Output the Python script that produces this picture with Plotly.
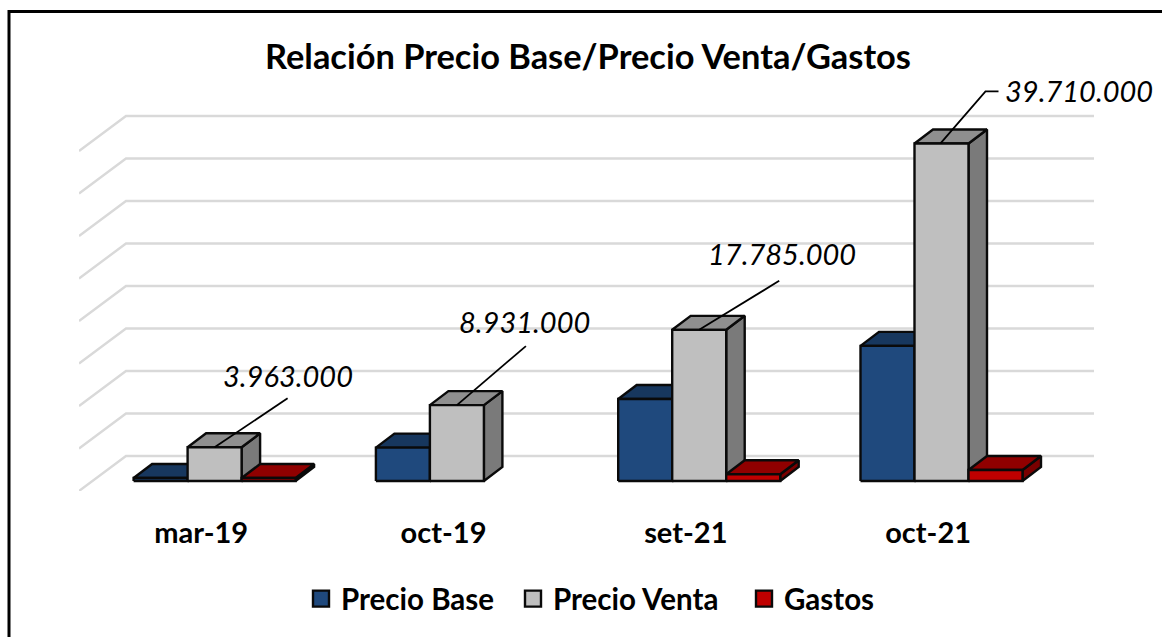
import plotly.graph_objects as go

# ---- data ----
categories = ["mar-19", "oct-19", "set-21", "oct-21"]
precio_base = [350000, 3930000, 9650000, 15900000]
precio_venta = [3963000, 8931000, 17785000, 39710000]
gastos = [350000, None, 800000, 1300000]
grid_values = [0, 5e6, 10e6, 15e6, 20e6, 25e6, 30e6, 35e6, 40e6]
venta_labels = ["3.963.000", "8.931.000", "17.785.000", "39.710.000"]

# ---- layout constants (pixels) ----
W, H = 1162, 637
L, R, T, B = 79, 1094, 80, 491
PX_X = 242.3            # px per category
PX_Y = 8.5 / 1e6        # px per unit value
X0 = 201.2              # px of category 0 at floor front
BAR_W = 54 / PX_X
FLOOR_DX, FLOOR_DY = 47 / PX_X, 35 / PX_Y
BAR_DX, BAR_DY = 18.5 / PX_X, 14 / PX_Y
OFF_X, OFF_Y = 13.4 / PX_X, 10 / PX_Y

xrange_ = [(L - X0) / PX_X, (R - X0) / PX_X]
yrange_ = [0, (B - T) / PX_Y]

FONT = "Lato"
EDGE = "#0a0a0a"

fig = go.Figure()

# gridlines on the back wall and side wall
for g in grid_values:
    fig.add_trace(go.Scatter(
        x=[xrange_[0], xrange_[0] + FLOOR_DX, xrange_[1]],
        y=[g, g + FLOOR_DY, g + FLOOR_DY],
        mode="lines", line=dict(color="#d9d9d9", width=2.4),
        hoverinfo="skip", showlegend=False))

series = [
    ("Precio Base", precio_base, -1, "#1f497d", "#17375e", "#17375e"),
    ("Precio Venta", precio_venta, 0, "#bfbfbf", "#8f8f8f", "#7a7a7a"),
    ("Gastos", gastos, 1, "#c00000", "#900000", "#7a0000"),
]


def poly(xs, ys, color):
    fig.add_trace(go.Scatter(
        x=xs + xs[:1], y=ys + ys[:1], mode="lines", fill="toself",
        fillcolor=color, line=dict(color=EDGE, width=2.4),
        hoverinfo="skip", showlegend=False))


for name, values, slot, front, top, side in series:
    for i, v in enumerate(values):
        if v is None:
            continue
        x1 = i + OFF_X + slot * BAR_W - BAR_W / 2
        x2 = x1 + BAR_W
        y1 = OFF_Y
        y2 = OFF_Y + v
        poly([x2, x2 + BAR_DX, x2 + BAR_DX, x2],
             [y1, y1 + BAR_DY, y2 + BAR_DY, y2], side)
        poly([x1, x1 + BAR_DX, x2 + BAR_DX, x2],
             [y2, y2 + BAR_DY, y2 + BAR_DY, y2], top)
        poly([x1, x2, x2, x1], [y1, y1, y2, y2], front)


def fx(p):
    return (p - L) / (R - L)


def fy(p):
    return 1 - (p - T) / (B - T)


# legend entries: one legend box per entry so that each sits where it should
legend_refs = ["legend", "legend2", "legend3"]
legend_left = [301, 513, 744]
legend_layout = {}
for k, (name, values, slot, front, top, side) in enumerate(series):
    fig.add_trace(go.Scatter(
        x=[None], y=[None], mode="markers", name=name, legend=legend_refs[k],
        marker=dict(symbol="square", size=17, color=front,
                    line=dict(color=EDGE, width=2.4))))
    legend_layout[legend_refs[k]] = dict(
        x=fx(legend_left[k]), y=fy(599), xanchor="left", yanchor="middle",
        font=dict(family=FONT, size=29.5, color="#000000", weight="bold"),
        bgcolor="rgba(0,0,0,0)", itemclick=False, itemdoubleclick=False)

# leader lines and value labels; offsets in px from bar top centre
leader_offsets = [
    [(0, 0), (73, 49)],
    [(0, 0), (69, 59)],
    [(0, 0), (80, 49)],
    [(-1, 0), (44, 52), (57, 52)],
]
label_offsets = [(73, 72), (68, 84), (83, 76), (137, 53)]
for i, v in enumerate(precio_venta):
    cx = i + OFF_X
    cy = OFF_Y + v
    pts = leader_offsets[i]
    fig.add_trace(go.Scatter(
        x=[cx + p[0] / PX_X for p in pts],
        y=[cy + p[1] / PX_Y for p in pts],
        mode="lines", line=dict(color="#000000", width=1.8),
        hoverinfo="skip", showlegend=False))
    fig.add_annotation(
        x=cx, y=cy, xref="x", yref="y", text=venta_labels[i],
        xshift=label_offsets[i][0], yshift=label_offsets[i][1],
        showarrow=False, xanchor="center", yanchor="middle",
        font=dict(family=FONT, size=29, color="#000000", style="italic"))

# outer frame, running off the right and bottom of the page
fig.add_shape(type="rect", xref="paper", yref="paper",
              x0=fx(9), x1=fx(1180), y0=fy(11.5), y1=fy(660),
              line=dict(color="#000000", width=3), fillcolor="rgba(0,0,0,0)")

fig.update_layout(
    width=W, height=H, autosize=False,
    margin=dict(l=L, r=W - R, t=T, b=H - B, pad=0),
    paper_bgcolor="white", plot_bgcolor="white",
    title=dict(text="<b>Relación Precio Base/Precio Venta/Gastos</b>",
               x=588 / W, y=1 - 57 / H, xref="container", yref="container",
               xanchor="center", yanchor="middle",
               font=dict(family=FONT, size=34.4, color="#000000")),
    xaxis=dict(range=xrange_, tickmode="array", tickvals=[0, 1, 2, 3],
               ticktext=[f"<b>{c}</b>" for c in categories],
               showgrid=False, zeroline=False, showline=False,
               ticks="outside", ticklen=16, tickcolor="rgba(0,0,0,0)",
               tickfont=dict(family=FONT, size=29, color="#000000"),
               fixedrange=True),
    yaxis=dict(range=yrange_, visible=False, fixedrange=True),
    showlegend=True,
    **legend_layout,
)

fig.write_html(
    "out.html",
    config={"displayModeBar": False},
    post_script="document.body.style.margin='0';document.body.style.overflow='hidden';",
)
